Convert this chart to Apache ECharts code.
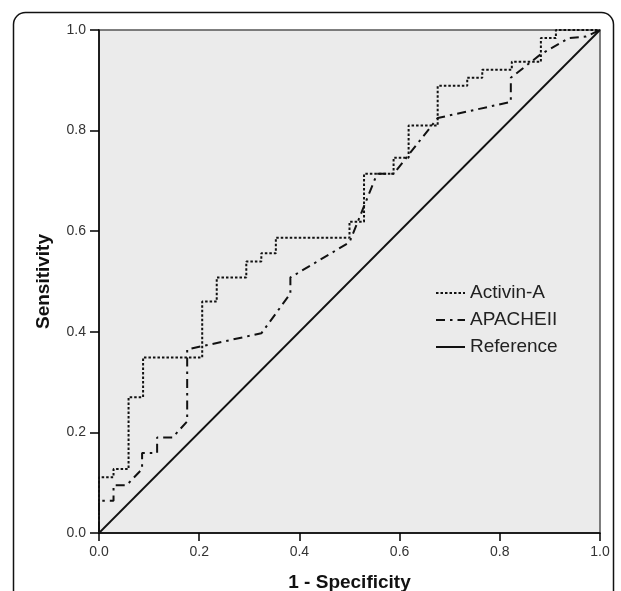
<!DOCTYPE html>
<html>
<head>
<meta charset="utf-8">
<script src="https://cdn.jsdelivr.net/npm/echarts@6/dist/echarts.min.js"></script>
<style>
html,body{margin:0;padding:0;background:#fff;}
#c{width:621px;height:591px;}
</style>
</head>
<body>
<div id="c"></div>
<script>
// Series names
const seriesNames = ["Activin-A", "APACHEII", "Reference"];
// Axis tick labels
const tickValues = [0.0, 0.2, 0.4, 0.6, 0.8, 1.0];

// Activin-A ROC curve (1 - Specificity, Sensitivity)
const activinX = [0, 0, 0.029, 0.029, 0.059, 0.059, 0.088, 0.088, 0.206, 0.206, 0.235, 0.235, 0.294, 0.294, 0.324, 0.324, 0.353, 0.353, 0.500, 0.500, 0.529, 0.529, 0.588, 0.588, 0.618, 0.618, 0.676, 0.676, 0.735, 0.735, 0.765, 0.765, 0.824, 0.824, 0.882, 0.882, 0.912, 0.912, 1.0];
const activinY = [0, 0.111, 0.111, 0.127, 0.127, 0.270, 0.270, 0.349, 0.349, 0.460, 0.460, 0.508, 0.508, 0.540, 0.540, 0.556, 0.556, 0.587, 0.587, 0.619, 0.619, 0.714, 0.714, 0.746, 0.746, 0.810, 0.810, 0.889, 0.889, 0.905, 0.905, 0.921, 0.921, 0.937, 0.937, 0.984, 0.984, 1.0, 1.0];

// APACHEII ROC curve
const apacheX = [0, 0, 0.029, 0.029, 0.055, 0.086, 0.086, 0.116, 0.116, 0.147, 0.176, 0.176, 0.324, 0.382, 0.382, 0.500, 0.555, 0.588, 0.676, 0.822, 0.822, 0.882, 0.938, 0.972, 1.0];
const apacheY = [0, 0.064, 0.064, 0.095, 0.095, 0.127, 0.159, 0.159, 0.190, 0.190, 0.222, 0.365, 0.397, 0.476, 0.508, 0.578, 0.714, 0.714, 0.825, 0.857, 0.905, 0.952, 0.984, 0.987, 1.0];

// Reference diagonal
const refX = [0, 1];
const refY = [0, 1];

function zip(xs, ys) { return xs.map((x, i) => [x, ys[i]]); }

const FONT = '"Liberation Sans", Arial, sans-serif';
const chart = echarts.init(document.getElementById('c'), null, {renderer: 'canvas'});

chart.setOption({
  backgroundColor: '#ffffff',
  animation: false,
  graphic: [{
    type: 'rect',
    left: 11, top: 10,
    shape: {width: 600, height: 640, r: 12},
    style: {fill: 'none', stroke: '#111', lineWidth: 1.5},
    z: 0
  }],
  grid: {
    left: 99, top: 30, width: 501, height: 503,
    outerBoundsMode: 'none',
    containLabel: false,
    show: true,
    backgroundColor: '#ebebeb',
    borderColor: '#555',
    borderWidth: 1.5
  },
  legend: {
    left: 430, top: 278,
    orient: 'vertical',
    itemWidth: 29, itemHeight: 14,
    itemGap: 7,
    data: seriesNames,
    itemStyle: {opacity: 0},
    textStyle: {fontFamily: FONT, fontSize: 19, color: '#222', lineHeight: 20}
  },
  xAxis: {
    type: 'value', min: 0, max: 1, interval: 0.2,
    name: '1 - Specificity', nameLocation: 'middle', nameGap: 40,
    nameTextStyle: {fontFamily: FONT, fontSize: 19, fontWeight: 'bold', color: '#111'},
    axisLine: {onZero: false, lineStyle: {color: '#000', width: 1.5}},
    axisTick: {show: true, inside: false, length: 8, lineStyle: {color: '#000', width: 1.5}},
    axisLabel: {margin: 12, fontFamily: FONT, fontSize: 14, color: '#333',
      formatter: v => v.toFixed(1)},
    splitLine: {show: false}
  },
  yAxis: {
    type: 'value', min: 0, max: 1, interval: 0.2,
    name: 'Sensitivity', nameLocation: 'middle', nameGap: 46, nameRotate: 90,
    nameTextStyle: {fontFamily: FONT, fontSize: 19, fontWeight: 'bold', color: '#111'},
    axisLine: {onZero: false, lineStyle: {color: '#000', width: 1.5}},
    axisTick: {show: true, inside: false, length: 9, lineStyle: {color: '#000', width: 1.5}},
    axisLabel: {margin: 13, fontFamily: FONT, fontSize: 14, color: '#333',
      formatter: v => v.toFixed(1)},
    splitLine: {show: false}
  },
  series: [
    {
      name: seriesNames[0], type: 'line', data: zip(activinX, activinY),
      symbol: 'none', color: '#111',
      lineStyle: {color: '#111', width: 2, type: [2.5, 2]},
      z: 4
    },
    {
      name: seriesNames[1], type: 'line', data: zip(apacheX, apacheY),
      symbol: 'none', color: '#111',
      lineStyle: {color: '#111', width: 2, type: [9, 5, 2.5, 5]},
      z: 3
    },
    {
      name: seriesNames[2], type: 'line', data: zip(refX, refY),
      symbol: 'none', color: '#111',
      lineStyle: {color: '#111', width: 1.8, type: 'solid'},
      z: 2
    }
  ]
});
</script>
</body>
</html>
